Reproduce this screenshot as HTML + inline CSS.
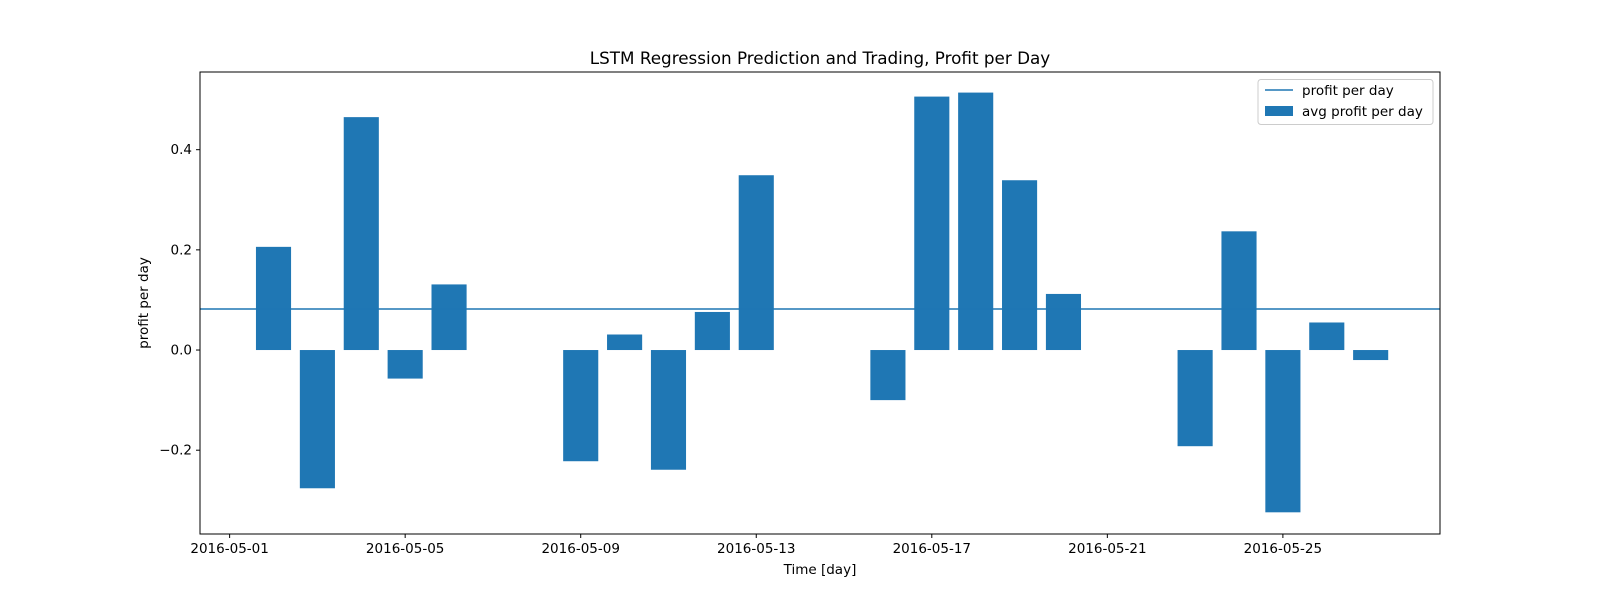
<!DOCTYPE html>
<html><head><meta charset="utf-8"><style>
body{margin:0;background:#fff;}
svg text{font-family:"DejaVu Sans","Liberation Sans",sans-serif;fill:#000;}
</style></head><body>
<svg id="chart" width="1600" height="600" xmlns="http://www.w3.org/2000/svg">
<rect width="1600" height="600" fill="#fff"/>
<text x="820" y="64" font-size="16.8" text-anchor="middle">LSTM Regression Prediction and Trading, Profit per Day</text>
<g id="bars"></g>
<g id="axes"></g>
<text x="820" y="574" font-size="13.5" text-anchor="middle">Time [day]</text>
<text transform="translate(148,303) rotate(-90)" font-size="13.5" text-anchor="middle">profit per day</text>
<g>
<rect x="1258" y="79.5" width="175" height="45" fill="#fff" stroke="#ccc" rx="3"/>
<line x1="1265" y1="90" x2="1293" y2="90" stroke="#1f77b4" stroke-width="1.5"/>
<text x="1302" y="95" font-size="13.5">profit per day</text>
<rect x="1265" y="106" width="28" height="10" fill="#1f77b4"/>
<text x="1302" y="116" font-size="13.5">avg profit per day</text>
</g>
</svg>
<script>
const dayOffsets=[1,2,3,4,5,8,9,10,11,12,15,16,17,18,19,22,23,24,25,26];
const profits=[0.206,-0.276,0.465,-0.057,0.131,-0.222,0.031,-0.239,0.076,0.349,-0.100,0.506,0.514,0.339,0.112,-0.192,0.237,-0.324,0.055,-0.020];
const avgProfit=[0.082];
const xTickDays=[0,4,8,12,16,20,24];
const xTickLabels=['2016-05-01','2016-05-05','2016-05-09','2016-05-13','2016-05-17','2016-05-21','2016-05-25'];
const yTicks=[-0.2,0.0,0.2,0.4];
const yTickLabels=['\u22120.2','0.0','0.2','0.4'];

const L=200,R=1440,T=72,B=534;
const xMin=-0.675,xMax=27.58,yMin=-0.3673,yMax=0.5551;
const xs=d=>L+(d-xMin)/(xMax-xMin)*(R-L);
const ys=v=>B-(v-yMin)/(yMax-yMin)*(B-T);
const NS='http://www.w3.org/2000/svg';
function mk(tag,attrs,parent){const e=document.createElementNS(NS,tag);for(const k in attrs)e.setAttribute(k,attrs[k]);parent.appendChild(e);return e;}
const bars=document.getElementById('bars'),axes=document.getElementById('axes');
const bw=(xs(0.8)-xs(0));
dayOffsets.forEach((d,i)=>{
  const v=profits[i];const y0=ys(0),y1=ys(v);
  const r=mk('rect',{x:xs(d)-bw/2,y:Math.min(y0,y1),width:bw,height:Math.abs(y1-y0),fill:'#1f77b4'},bars);
  
  
});
const hl=mk('line',{x1:L,x2:R,y1:ys(avgProfit[0]),y2:ys(avgProfit[0]),stroke:'#1f77b4','stroke-width':1.5},bars);


const fr=mk('rect',{x:L,y:T,width:R-L,height:B-T,fill:'none',stroke:'#000','stroke-width':1},axes);


xTickDays.forEach((d,i)=>{
  const x=xs(d);
  mk('line',{x1:x,x2:x,y1:B,y2:B+4,stroke:'#000'},axes);
  const t=mk('text',{x:x,y:B+19,'font-size':13.5,'text-anchor':'middle'},axes);
  t.textContent=xTickLabels[i];
  
  
});
yTicks.forEach((v,i)=>{
  const y=ys(v);
  mk('line',{x1:L-4,x2:L,y1:y,y2:y,stroke:'#000'},axes);
  const t=mk('text',{x:L-8,y:y+4.5,'font-size':13.5,'text-anchor':'end'},axes);
  t.textContent=yTickLabels[i];
  
  
});
</script>
</body></html>
